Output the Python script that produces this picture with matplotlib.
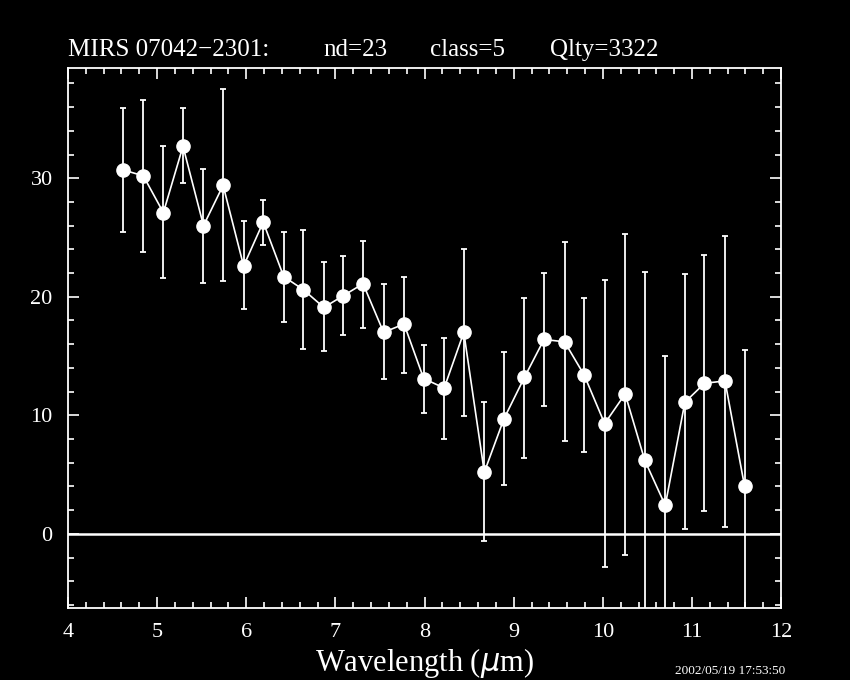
import numpy as np
import matplotlib
matplotlib.use("Agg")
import matplotlib.pyplot as plt
from matplotlib.ticker import MultipleLocator

# spectrum values
wavelength = [4.62, 4.845, 5.07, 5.29, 5.52, 5.74, 5.97, 6.19, 6.42, 6.64, 6.87,
              7.09, 7.31, 7.54, 7.77, 7.99, 8.22, 8.44, 8.67, 8.89, 9.12, 9.34,
              9.57, 9.79, 10.02, 10.25, 10.47, 10.70, 10.92, 11.14, 11.37, 11.59]
flux = [30.7, 30.2, 27.1, 32.7, 26.0, 29.4, 22.6, 26.3, 21.7, 20.6, 19.1,
        20.1, 21.1, 17.0, 17.7, 13.1, 12.3, 17.0, 5.2, 9.7, 13.2, 16.4,
        16.2, 13.4, 9.3, 11.8, 6.2, 2.4, 11.1, 12.7, 12.9, 4.0]
err_top = [35.9, 36.6, 32.7, 35.9, 30.8, 37.5, 26.4, 28.2, 25.5, 25.6, 22.9,
           23.4, 24.7, 21.1, 21.7, 15.9, 16.5, 24.0, 11.1, 15.3, 19.9, 22.0,
           24.6, 19.9, 21.4, 25.3, 22.1, 15.0, 21.9, 23.5, 25.1, 15.5]
err_bot = [25.5, 23.8, 21.6, 29.6, 21.2, 21.3, 19.0, 24.4, 17.9, 15.6, 15.4,
           16.8, 17.4, 13.1, 13.6, 10.2, 8.0, 9.9, -0.6, 4.1, 6.4, 10.8,
           7.8, 6.9, -2.8, -1.8, -9.7, -10.2, 0.4, 1.9, 0.6, -7.5]

title_parts = ["MIRS 07042\u22122301:", "nd=23", "class=5", "Qlty=3322"]
stamp = "2002/05/19 17:53:50"

x = np.array(wavelength)
y = np.array(flux)
yerr = [y - np.array(err_bot), np.array(err_top) - y]

plt.rcParams["font.family"] = ["Liberation Serif", "DejaVu Serif"]

fig = plt.figure(figsize=(8.5, 6.8), dpi=100, facecolor="black")
ax = fig.add_axes([0.08, 0.106, 0.839, 0.794], facecolor="black")

ax.axhline(0, color="white", linewidth=1.8, zorder=1)
ax.errorbar(x, y, yerr=yerr, fmt="none", ecolor="white", elinewidth=1.3,
            capsize=2.2, capthick=1.3, zorder=2)
ax.plot(x, y, color="white", linewidth=1.2, marker="o", markersize=9.5,
        markerfacecolor="white", markeredgecolor="white", zorder=3)

ax.set_xlim(4, 12)
ax.set_ylim(-6.25, 39.3)
ax.xaxis.set_major_locator(MultipleLocator(1))
ax.xaxis.set_minor_locator(MultipleLocator(0.2))
ax.yaxis.set_major_locator(MultipleLocator(10))
ax.yaxis.set_minor_locator(MultipleLocator(2))

for s in ax.spines.values():
    s.set_color("white")
    s.set_linewidth(1.3)

ax.tick_params(which="both", direction="in", colors="white", top=True, right=True,
               labelsize=16, width=1.2)
ax.tick_params(which="major", length=8, pad=11)
ax.tick_params(which="minor", length=4.5)

ax.set_xlabel("Wavelength ($\\mu$m)", color="white", fontsize=22, labelpad=3)

# title pieces spread out like the original header
for txt, px in zip(title_parts, [68, 323, 430, 550]):
    fig.text(px / 850, 1 - 50 / 680, txt, color="white", fontsize=18,
             ha="left", va="center")

fig.text(785 / 850, 0.004, stamp, color="white", fontsize=9.5, ha="right", va="bottom")

fig.savefig("out.png", dpi=100, facecolor="black")
